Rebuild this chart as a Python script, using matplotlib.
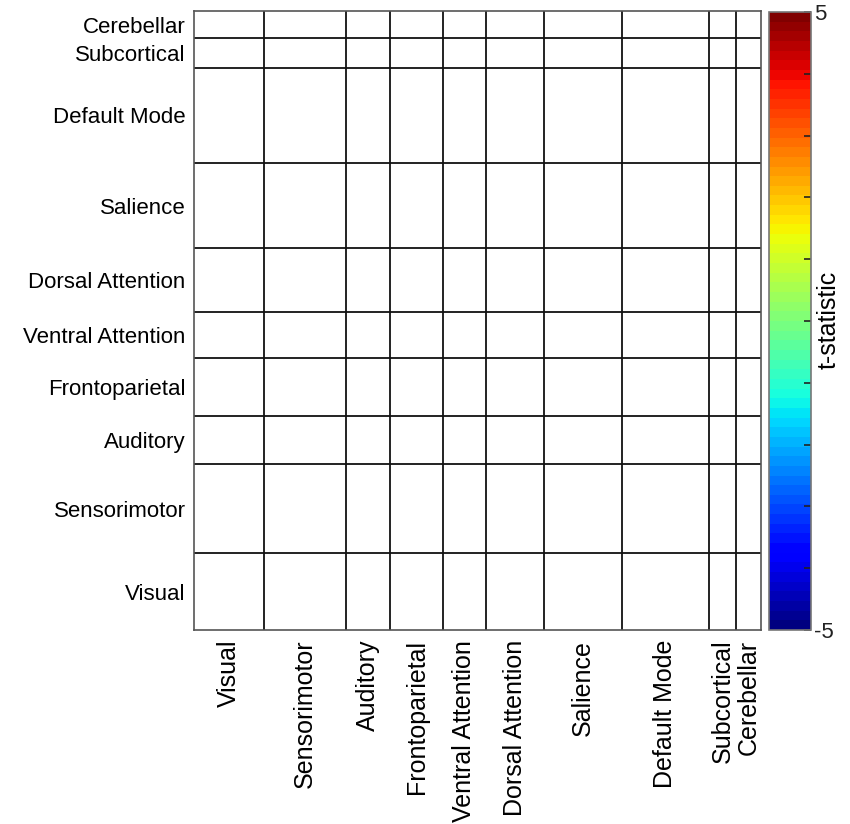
import numpy as np
import matplotlib
matplotlib.use("Agg")
import matplotlib.pyplot as plt
from matplotlib.colors import Normalize
from matplotlib.cm import ScalarMappable

plt.rcParams['font.family'] = ['Liberation Sans', 'DejaVu Sans']

# networks, ordered left->right on x and bottom->top on y
networks = ["Visual", "Sensorimotor", "Auditory", "Frontoparietal", "Ventral Attention",
            "Dorsal Attention", "Salience", "Default Mode", "Subcortical", "Cerebellar"]
# number of regions per network (sets block sizes)
net_sizes = [70, 82, 44, 53, 42, 58, 78, 87, 27, 25]
# block-wise t-statistics: nothing significant, all cells empty
tvals = np.full((len(networks), len(networks)), np.nan)

tmin, tmax = -5, 5

edges = np.concatenate([[0], np.cumsum(net_sizes)])
centers = (edges[:-1] + edges[1:]) / 2

fig = plt.figure(figsize=(8.5, 8.24), dpi=100)
ax = fig.add_axes([194/850, 1 - 630/824, 567/850, 619/824])

cmap = plt.get_cmap('jet', 64)
ax.pcolormesh(edges, edges, np.ma.masked_invalid(tvals), cmap=cmap, vmin=tmin, vmax=tmax)

for e in edges[1:-1]:
    ax.axvline(e, color='#111111', lw=1.3)
    ax.axhline(e, color='#111111', lw=1.3)

ax.set_xlim(edges[0], edges[-1])
ax.set_ylim(edges[0], edges[-1])
ax.set_xticks(centers)
ax.set_xticklabels(networks, rotation=90, fontsize=18)
ax.set_yticks(centers)
ax.set_yticklabels(networks, fontsize=16)
ax.tick_params(axis='both', length=0)
ax.tick_params(axis='y', pad=6)
ax.tick_params(axis='x', pad=7)
for s in ax.spines.values():
    s.set_color('#555555')
    s.set_linewidth(1.2)

# colorbar
cax = fig.add_axes([769/850, 1 - 630/824, 42/850, 618/824])
sm = ScalarMappable(norm=Normalize(tmin, tmax), cmap=cmap)
cb = fig.colorbar(sm, cax=cax)
cb.set_ticks(np.arange(tmin, tmax + 1))
cb.set_ticklabels(['-5'] + [''] * 9 + ['5'])
cb.ax.tick_params(direction='in', length=5, width=1.2, pad=2, labelsize=16, colors='#222222')
cb.outline.set_edgecolor('#777777')
cb.outline.set_linewidth(1.2)
fig.text(829/850, 1 - 320/824, 't-statistic', rotation=90, ha='center', va='center', fontsize=18)

fig.savefig('out.png', dpi=100)
